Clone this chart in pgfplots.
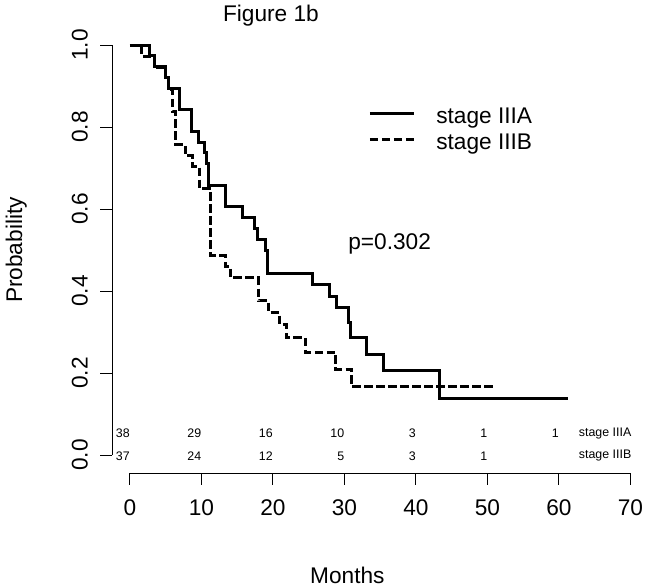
\documentclass[border=0pt]{standalone}
\usepackage{fontspec}
\setmainfont{Liberation Sans}
\usepackage{pgfplots}
\usepackage{pgfplotstable}
\pgfplotsset{compat=1.18}

\pgfplotstableread{
m s
0 1.000
2.7 0.974
3.4 0.947
5.0 0.921
5.4 0.895
6.9 0.842
8.65 0.789
9.55 0.763
10.4 0.737
10.7 0.711
11.0 0.658
13.35 0.605
15.8 0.579
17.4 0.553
17.85 0.526
19.0 0.500
19.3 0.443
25.55 0.415
27.85 0.387
28.85 0.359
30.5 0.323
30.85 0.287
33.1 0.246
35.5 0.205
43.35 0.137
61.2 0.137
}\stageA

\pgfplotstableread{
m s
0 1.000
1.6 0.973
3.4 0.946
5.0 0.919
5.4 0.892
5.9 0.838
6.4 0.757
7.7 0.730
8.8 0.703
9.7 0.649
11.3 0.486
13.3 0.459
14.0 0.432
17.95 0.376
19.35 0.348
20.9 0.319
21.85 0.286
24.5 0.251
28.75 0.209
31.05 0.167
51.2 0.167
}\stageB

\newcommand{\bigf}{\fontsize{17}{20}\selectfont}
\newcommand{\smallf}{\fontsize{9.3}{11}\selectfont}

\begin{document}
\begin{tikzpicture}[rn/.style={font=\smallf, anchor=east, inner sep=0pt}]
\begin{axis}[
  x=5.3625pt, y=307.5pt,
  xmin=-2.5, xmax=70, ymin=-0.044, ymax=1,
  enlargelimits=false, clip=false,
  axis x line*=bottom, axis y line*=left,
  axis line style={line width=0.75pt, black},
  x axis line style={shorten <=13.41pt},
  y axis line style={shorten <=13.53pt},
  xtick={0,10,20,30,40,50,60,70},
  xticklabels={0,10,20,30,40,50,60,70},
  ytick={0,0.2,0.4,0.6,0.8,1},
  yticklabels={0.0,0.2,0.4,0.6,0.8,1.0},
  tick align=outside, major tick length=8.8pt,
  tick style={line width=0.75pt, black},
  ticklabel style={font=\bigf},
  xticklabel style={inner ysep=10.9pt},
  yticklabel style={rotate=90, anchor=south, inner ysep=9.2pt},
  legend style={at={(axis cs:33.3,0.849)}, anchor=north west, draw=none, fill=none,
    font=\bigf, inner sep=0pt, row sep=3.4pt,
    nodes={inner sep=0pt, text height=12.5pt, text depth=3.6pt}},
  legend cell align=left,
  legend image code/.code={\draw[#1] (0pt,3pt) -- (33pt,3pt); \path (48.75pt,0pt);},
]
\path (axis cs:-18.18,-0.3195) rectangle (axis cs:72.59,1.1098);
\addplot[const plot, black, line width=2.25pt] table[x=m,y=s]{\stageA};
\addlegendentry{stage IIIA}
\addplot[const plot, black, line width=2.25pt, dash pattern=on 6.4pt off 2.6pt] table[x=m,y=s]{\stageB};
\addlegendentry{stage IIIB}

\node[font=\bigf] at (axis cs:19.72,1.071) {Figure 1b};
\node[font=\bigf] at (axis cs:30.4,-0.2927) {Months};
\node[font=\bigf, rotate=90] at (axis cs:-15.9,0.5) {Probability};
\node[font=\bigf, anchor=west, inner sep=0pt] at (axis cs:30.5,0.515) {p=0.302};

% numbers at risk
\node[rn] at (axis cs:0,0.0527) {38};
\node[rn] at (axis cs:10,0.0527) {29};
\node[rn] at (axis cs:20,0.0527) {16};
\node[rn] at (axis cs:30,0.0527) {10};
\node[rn] at (axis cs:40,0.0527) {3};
\node[rn] at (axis cs:50,0.0527) {1};
\node[rn] at (axis cs:60,0.0527) {1};
\node[rn] at (axis cs:0,-0.002) {37};
\node[rn] at (axis cs:10,-0.002) {24};
\node[rn] at (axis cs:20,-0.002) {12};
\node[rn] at (axis cs:30,-0.002) {5};
\node[rn] at (axis cs:40,-0.002) {3};
\node[rn] at (axis cs:50,-0.002) {1};
\node[font=\smallf, anchor=west, inner sep=0pt] at (axis cs:62.75,0.0527) {stage IIIA};
\node[font=\smallf, anchor=west, inner sep=0pt] at (axis cs:62.75,-0.002) {stage IIIB};
\end{axis}
\end{tikzpicture}
\end{document}
